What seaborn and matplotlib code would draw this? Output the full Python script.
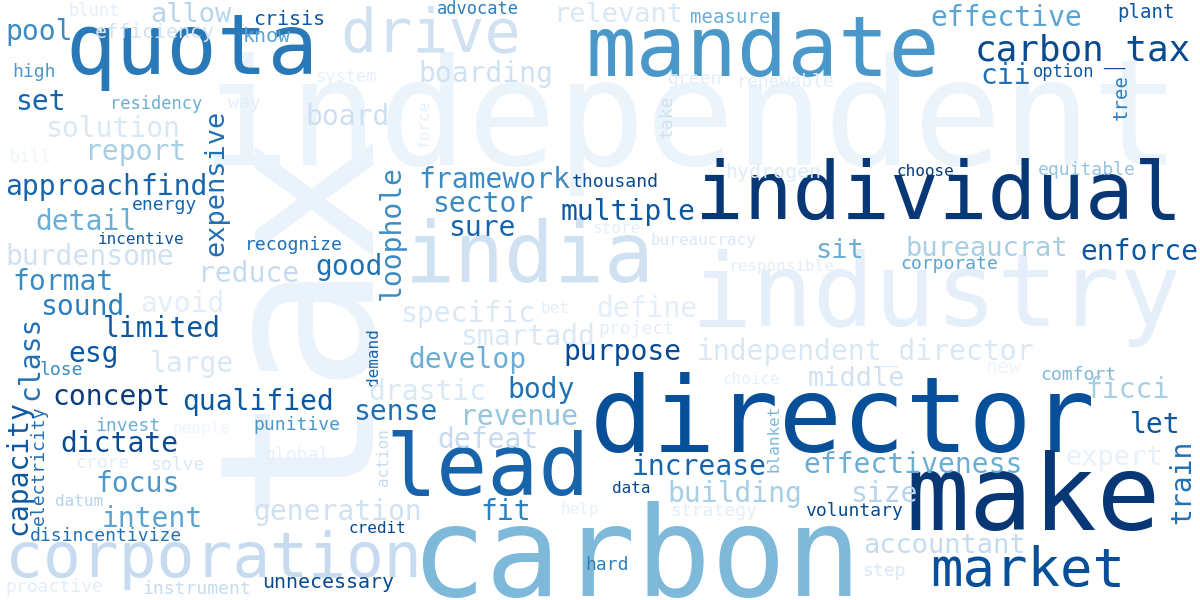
import matplotlib
matplotlib.use("Agg")
import matplotlib.pyplot as plt
import seaborn as sns

# word, colour shade (0 light .. 1 dark)
words = ["tax", "independent", "industry", "india", "drive", "quota", "mandate", "individual",
         "director", "lead", "make", "carbon", "corporation", "market", "carbon_tax", "effective",
         "cii", "option", "plant", "tree", "advocate", "blunt", "relevant", "measure", "allow",
         "crisis", "know", "efficiency", "pool", "high", "set", "residency", "system", "way",
         "boarding", "green", "renewable", "board", "solution", "expensive", "force", "take",
         "report", "bill", "loophole", "approach", "find", "framework", "thousand", "hydrogen",
         "choose", "equitable", "energy", "sector", "multiple", "detail", "sure", "incentive",
         "store", "bureaucracy", "sit", "bureaucrat", "enforce", "burdensome", "recognize", "good",
         "reduce", "responsible", "corporate", "format", "sound", "avoid", "specific", "bet",
         "define", "limited", "smartadd", "project", "independent_director", "new", "class",
         "demand", "esg", "large", "develop", "purpose", "lose", "capacity", "electricity",
         "middle", "comfort", "choice", "drastic", "body", "ficci", "concept", "qualified",
         "sense", "revenue", "invest", "people", "punitive", "let", "blanket", "dictate",
         "defeat", "action", "global", "expert", "increase", "effectiveness", "crore", "solve",
         "train", "focus", "data", "building", "size", "datum", "intent", "fit", "generation",
         "help", "strategy", "voluntary", "credit", "disincentivize", "accountant", "hard",
         "step", "proactive", "instrument", "unnecessary"]
shades = [0.07, 0.06, 0.09, 0.2, 0.2, 0.72, 0.6, 0.97, 0.88, 0.8, 0.97, 0.45, 0.25, 0.88,
          0.9, 0.55, 0.75, 0.85, 0.85, 0.7, 0.7, 0.1, 0.15, 0.5, 0.3, 0.85, 0.55, 0.2, 0.65,
          0.6, 0.8, 0.5, 0.08, 0.1, 0.2, 0.1, 0.1, 0.22, 0.15, 0.75, 0.08, 0.2, 0.35, 0.05,
          0.65, 0.8, 0.8, 0.65, 0.9, 0.12, 0.95, 0.4, 0.8, 0.65, 0.85, 0.5, 0.8, 0.85, 0.1,
          0.15, 0.5, 0.35, 0.85, 0.2, 0.75, 0.75, 0.25, 0.1, 0.55, 0.65, 0.7, 0.1, 0.15, 0.1,
          0.1, 0.85, 0.15, 0.1, 0.15, 0.05, 0.75, 0.8, 0.85, 0.15, 0.5, 0.9, 0.65, 0.85, 0.75,
          0.2, 0.45, 0.08, 0.15, 0.75, 0.35, 0.95, 0.85, 0.75, 0.4, 0.5, 0.05, 0.6, 0.85, 0.45,
          0.9, 0.25, 0.25, 0.08, 0.08, 0.8, 0.5, 0.1, 0.15, 0.75, 0.6, 0.9, 0.35, 0.3, 0.3,
          0.55, 0.7, 0.2, 0.08, 0.1, 0.9, 0.9, 0.75, 0.25, 0.7, 0.15, 0.1, 0.25, 0.9]

# layout: x, y (top-left, px), font size px, rotation
layout = [(195, 120, 215, 90), (200, 52, 148, 0), (690, 248, 102, 0), (405, 218, 83, 0),
          (340, 5, 60, 0), (65, 10, 84, 0), (585, 12, 84, 0), (695, 158, 81, 0),
          (590, 372, 105, 0), (385, 430, 85, 0), (905, 450, 106, 0), (410, 500, 125, 0),
          (5, 530, 63, 0), (930, 545, 54, 0), (975, 34, 36, 0), (930, 4, 28, 0),
          (980, 62, 28, 0), (1033, 63, 17, 0), (1117, 3, 19, 0), (1112, 74, 19, 90),
          (437, 0, 17, 0), (68, 2, 17, 0), (553, 2, 27, 0), (690, 8, 19, 0),
          (150, 2, 27, 0), (253, 10, 20, 0), (243, 27, 20, 0), (95, 23, 20, 0),
          (5, 18, 28, 0), (12, 63, 18, 0), (15, 88, 28, 0), (110, 95, 17, 0),
          (315, 68, 17, 0), (228, 94, 18, 0), (418, 60, 28, 0), (668, 70, 18, 0),
          (737, 73, 18, 0), (305, 103, 28, 0), (45, 115, 28, 0), (203, 110, 27, 90),
          (416, 100, 16, 90), (658, 95, 18, 90), (85, 138, 28, 0), (8, 148, 18, 0),
          (378, 165, 28, 90), (5, 173, 28, 0), (140, 173, 28, 0), (418, 166, 28, 0),
          (572, 173, 18, 0), (725, 163, 20, 0), (897, 164, 16, 0), (1038, 161, 18, 0),
          (132, 196, 18, 0), (432, 190, 28, 0), (560, 198, 28, 0), (35, 208, 28, 0),
          (448, 214, 28, 0), (98, 232, 16, 0), (592, 221, 16, 0), (650, 233, 16, 0),
          (815, 238, 27, 0), (905, 236, 27, 0), (1080, 238, 28, 0), (5, 243, 28, 0),
          (245, 236, 18, 0), (315, 253, 28, 0), (198, 260, 28, 0), (728, 259, 16, 0),
          (900, 255, 18, 0), (12, 268, 28, 0), (40, 293, 28, 0), (140, 290, 28, 0),
          (400, 300, 28, 0), (540, 301, 16, 0), (596, 295, 28, 0), (103, 315, 28, 0),
          (460, 323, 28, 0), (598, 320, 18, 0), (697, 338, 28, 0), (985, 358, 20, 0),
          (16, 316, 28, 90), (366, 328, 16, 90), (68, 340, 28, 0), (150, 350, 28, 0),
          (408, 346, 28, 0), (563, 338, 28, 0), (40, 361, 18, 0), (4, 400, 28, 90),
          (30, 405, 18, 90), (808, 366, 27, 0), (1040, 366, 18, 0), (722, 372, 16, 0),
          (368, 378, 28, 0), (507, 376, 28, 0), (1085, 376, 28, 0), (52, 383, 28, 0),
          (182, 388, 28, 0), (353, 398, 28, 0), (460, 403, 28, 0), (95, 417, 18, 0),
          (172, 421, 16, 0), (253, 416, 18, 0), (1130, 411, 28, 0), (766, 405, 16, 90),
          (60, 430, 28, 0), (437, 426, 28, 0), (376, 428, 16, 90), (265, 446, 18, 0),
          (1065, 445, 27, 0), (632, 453, 28, 0), (803, 451, 28, 0), (75, 454, 18, 0),
          (150, 456, 18, 0), (1168, 440, 28, 90), (95, 470, 28, 0), (612, 481, 16, 0),
          (667, 480, 28, 0), (850, 480, 28, 0), (55, 494, 16, 0), (102, 505, 28, 0),
          (480, 498, 28, 0), (253, 498, 28, 0), (560, 502, 16, 0), (670, 502, 18, 0),
          (805, 502, 18, 0), (348, 521, 16, 0), (30, 527, 18, 0), (863, 533, 27, 0),
          (585, 556, 18, 0), (862, 562, 18, 0), (5, 578, 18, 0), (142, 580, 18, 0),
          (262, 573, 20, 0)]

sns.set_theme(style="white")
cmap = sns.color_palette("Blues", as_cmap=True)

fig = plt.figure(figsize=(12, 6), dpi=100)
ax = fig.add_axes([0, 0, 1, 1])
ax.set_xlim(0, 1200)
ax.set_ylim(600, 0)
ax.axis("off")

for w, s, (x, y, px, rot) in zip(words, shades, layout):
    ax.text(x, y, w, fontsize=px * 0.72, rotation=rot, ha="left", va="top",
            color=cmap(s), family="DejaVu Sans Mono")

fig.savefig("out.png", dpi=100, facecolor="white")
